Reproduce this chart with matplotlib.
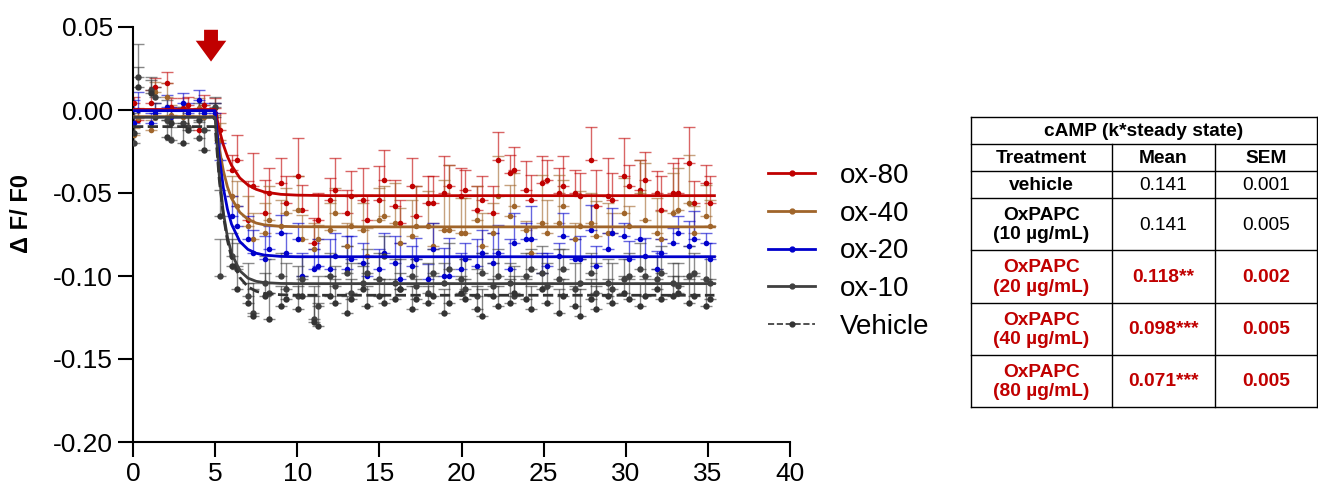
import matplotlib
matplotlib.use("Agg")
import matplotlib.pyplot as plt
from matplotlib.lines import Line2D
import numpy as np

plt.rcParams['font.family'] = ['Liberation Sans', 'DejaVu Sans']

# time points (s)
t = [0.05, 0.32, 1.07, 1.34, 2.05, 2.33, 3.05, 3.32, 4.03, 4.32, 5.02, 5.30,
     6.04, 6.33, 7.03, 7.31, 8.04, 8.30, 9.02, 9.30, 10.02, 10.29, 11.00, 11.29,
     12.00, 12.28, 13.00, 13.27, 13.98, 14.27, 14.98, 15.26, 15.97, 16.26, 16.97, 17.25,
     17.96, 18.24, 18.96, 19.24, 19.95, 20.23, 20.94, 21.22, 21.94, 22.22, 22.93, 23.21,
     23.93, 24.21, 24.92, 25.20, 25.92, 26.19, 26.91, 27.19, 27.91, 28.18, 28.90, 29.18,
     29.90, 30.17, 30.89, 31.17, 31.89, 32.16, 32.88, 33.16, 33.88, 34.15, 34.87, 35.15]

ox80 = [0.004, -0.006, 0.004, 0.014, 0.016, 0.002, 0.001, 0.003, -0.012, 0.003, 0.001, -0.012,
        -0.036, -0.030, -0.066, -0.046, -0.062, -0.050, -0.044, -0.056, -0.040, -0.060, -0.080, -0.066,
        -0.054, -0.048, -0.062, -0.052, -0.054, -0.066, -0.054, -0.042, -0.058, -0.068, -0.046, -0.064,
        -0.056, -0.056, -0.050, -0.046, -0.052, -0.048, -0.060, -0.054, -0.062, -0.030, -0.038, -0.036,
        -0.048, -0.054, -0.044, -0.042, -0.050, -0.046, -0.050, -0.052, -0.030, -0.058, -0.052, -0.054,
        -0.040, -0.046, -0.048, -0.042, -0.050, -0.060, -0.050, -0.050, -0.032, -0.056, -0.044, -0.056]
ox80_sem = [0.004, 0.006, 0.008, 0.005, 0.007, 0.005, 0.006, 0.005, 0.008, 0.006, 0.006, 0.010,
            0.009, 0.015, 0.023, 0.020, 0.020, 0.015, 0.015, 0.016, 0.023, 0.015, 0.015, 0.016,
            0.013, 0.019, 0.014, 0.015, 0.019, 0.015, 0.020, 0.018, 0.016, 0.014, 0.017, 0.018,
            0.016, 0.016, 0.022, 0.013, 0.017, 0.012, 0.014, 0.014, 0.016, 0.017, 0.011, 0.014,
            0.017, 0.015, 0.016, 0.012, 0.015, 0.018, 0.014, 0.014, 0.020, 0.022, 0.023, 0.016,
            0.023, 0.013, 0.018, 0.017, 0.013, 0.020, 0.018, 0.021, 0.022, 0.013, 0.011, 0.016]

ox40 = [-0.015, -0.005, -0.012, 0.011, 0.008, -0.003, -0.004, -0.010, 0.001, -0.004, -0.003, -0.018,
        -0.052, -0.058, -0.070, -0.078, -0.074, -0.066, -0.070, -0.062, -0.060, -0.078, -0.084, -0.078,
        -0.072, -0.062, -0.082, -0.070, -0.072, -0.088, -0.066, -0.064, -0.068, -0.080, -0.076, -0.070,
        -0.070, -0.082, -0.072, -0.072, -0.074, -0.074, -0.066, -0.082, -0.074, -0.052, -0.064, -0.058,
        -0.072, -0.086, -0.068, -0.074, -0.068, -0.058, -0.078, -0.070, -0.068, -0.076, -0.074, -0.074,
        -0.062, -0.070, -0.050, -0.066, -0.074, -0.078, -0.062, -0.060, -0.056, -0.074, -0.064, -0.070]
ox40_sem = [0.004, 0.006, 0.006, 0.006, 0.008, 0.006, 0.006, 0.007, 0.006, 0.007, 0.007, 0.010,
            0.012, 0.015, 0.018, 0.016, 0.018, 0.020, 0.016, 0.015, 0.020, 0.015, 0.016, 0.009,
            0.016, 0.015, 0.014, 0.018, 0.016, 0.017, 0.019, 0.018, 0.024, 0.021, 0.022, 0.024,
            0.021, 0.014, 0.030, 0.039, 0.021, 0.021, 0.020, 0.020, 0.018, 0.024, 0.019, 0.020,
            0.005, 0.015, 0.029, 0.020, 0.029, 0.016, 0.010, 0.021, 0.018, 0.021, 0.018, 0.012,
            0.021, 0.012, 0.020, 0.034, 0.021, 0.017, 0.024, 0.025, 0.029, 0.016, 0.019, 0.016]

ox20 = [-0.008, 0.000, -0.008, -0.002, 0.002, -0.004, 0.004, -0.002, 0.006, -0.002, -0.002, -0.030,
        -0.064, -0.070, -0.078, -0.086, -0.090, -0.084, -0.074, -0.086, -0.078, -0.100, -0.096, -0.094,
        -0.096, -0.088, -0.096, -0.090, -0.092, -0.100, -0.096, -0.086, -0.092, -0.102, -0.094, -0.090,
        -0.102, -0.084, -0.100, -0.100, -0.096, -0.090, -0.094, -0.086, -0.092, -0.086, -0.096, -0.080,
        -0.078, -0.078, -0.098, -0.094, -0.088, -0.076, -0.090, -0.090, -0.072, -0.094, -0.084, -0.074,
        -0.076, -0.090, -0.078, -0.088, -0.096, -0.086, -0.080, -0.074, -0.082, -0.078, -0.080, -0.090]
ox20_sem = [0.014, 0.011, 0.006, 0.006, 0.007, 0.006, 0.006, 0.006, 0.006, 0.006, 0.006, 0.010,
            0.012, 0.012, 0.014, 0.014, 0.014, 0.014, 0.011, 0.012, 0.010, 0.014, 0.012, 0.016,
            0.018, 0.014, 0.020, 0.014, 0.012, 0.012, 0.012, 0.012, 0.016, 0.022, 0.012, 0.013,
            0.009, 0.016, 0.017, 0.023, 0.010, 0.010, 0.016, 0.014, 0.018, 0.017, 0.018, 0.018,
            0.010, 0.020, 0.012, 0.008, 0.008, 0.014, 0.012, 0.014, 0.015, 0.012, 0.010, 0.015,
            0.008, 0.011, 0.008, 0.011, 0.011, 0.008, 0.009, 0.010, 0.015, 0.017, 0.006, 0.010]

ox10 = [-0.020, 0.020, 0.012, 0.008, -0.006, -0.018, -0.008, -0.010, -0.017, -0.012, 0.002, -0.100,
        -0.088, -0.096, -0.112, -0.122, -0.104, -0.110, -0.100, -0.108, -0.112, -0.102, -0.126, -0.118,
        -0.100, -0.106, -0.098, -0.110, -0.104, -0.098, -0.102, -0.088, -0.104, -0.108, -0.100, -0.106,
        -0.110, -0.098, -0.104, -0.096, -0.102, -0.108, -0.112, -0.098, -0.106, -0.100, -0.104, -0.112,
        -0.100, -0.096, -0.098, -0.106, -0.102, -0.096, -0.108, -0.104, -0.098, -0.110, -0.104, -0.108,
        -0.102, -0.100, -0.096, -0.100, -0.102, -0.098, -0.104, -0.106, -0.100, -0.098, -0.102, -0.104]
ox10_sem = [0.010, 0.020, 0.008, 0.006, 0.012, 0.008, 0.010, 0.006, 0.010, 0.008, 0.006, 0.022,
            0.014, 0.016, 0.020, 0.018, 0.016, 0.020, 0.014, 0.016, 0.018, 0.014, 0.020, 0.018,
            0.014, 0.012, 0.016, 0.018, 0.012, 0.014, 0.016, 0.012, 0.014, 0.018, 0.012, 0.016,
            0.018, 0.014, 0.012, 0.016, 0.014, 0.018, 0.016, 0.012, 0.014, 0.016, 0.012, 0.018,
            0.014, 0.012, 0.016, 0.014, 0.018, 0.012, 0.016, 0.014, 0.012, 0.018, 0.014, 0.016,
            0.012, 0.014, 0.016, 0.012, 0.014, 0.016, 0.012, 0.014, 0.018, 0.012, 0.014, 0.016]

vehicle = [-0.014, 0.014, 0.010, -0.004, -0.016, -0.008, -0.020, -0.012, -0.006, -0.024, -0.004, -0.064,
           -0.094, -0.108, -0.116, -0.124, -0.112, -0.126, -0.118, -0.114, -0.120, -0.112, -0.128, -0.130,
           -0.112, -0.116, -0.122, -0.114, -0.108, -0.118, -0.112, -0.116, -0.114, -0.108, -0.120, -0.114,
           -0.116, -0.112, -0.122, -0.116, -0.110, -0.114, -0.120, -0.124, -0.112, -0.118, -0.116, -0.110,
           -0.114, -0.120, -0.108, -0.116, -0.122, -0.112, -0.118, -0.124, -0.114, -0.120, -0.112, -0.116,
           -0.110, -0.114, -0.118, -0.112, -0.108, -0.114, -0.112, -0.110, -0.116, -0.112, -0.118, -0.114]
vehicle_sem = [0.012, 0.012, 0.008, 0.008, 0.010, 0.008, 0.012, 0.008, 0.010, 0.012, 0.008, 0.016,
               0.016, 0.014, 0.012, 0.016, 0.014, 0.016, 0.012, 0.010, 0.014, 0.012, 0.016, 0.014,
               0.012, 0.014, 0.010, 0.012, 0.014, 0.012, 0.010, 0.014, 0.012, 0.010, 0.014, 0.012,
               0.010, 0.012, 0.014, 0.012, 0.010, 0.012, 0.014, 0.016, 0.010, 0.012, 0.014, 0.010,
               0.012, 0.014, 0.010, 0.012, 0.014, 0.010, 0.012, 0.016, 0.012, 0.014, 0.010, 0.012,
               0.010, 0.012, 0.014, 0.010, 0.012, 0.010, 0.012, 0.010, 0.014, 0.012, 0.014, 0.012]

# fitted curves (plateau then one-phase decay)
fit_t = [0, 5.0, 5.25, 5.5, 5.75, 6.0, 6.5, 7.0, 7.5, 8.0, 9.0, 10.0, 12.0, 35.4]
fit80 = [0.0003, 0.0003, -0.0117, -0.0209, -0.0280, -0.0334, -0.0409, -0.0452, -0.0478, -0.0494, -0.0508, -0.0513, -0.0516, -0.0516]
fit40 = [-0.0040, -0.0040, -0.0230, -0.0366, -0.0463, -0.0532, -0.0616, -0.0659, -0.0681, -0.0692, -0.0701, -0.0703, -0.0704, -0.0704]
fit20 = [-0.0004, -0.0004, -0.0279, -0.0469, -0.0598, -0.0688, -0.0792, -0.0840, -0.0863, -0.0874, -0.0882, -0.0884, -0.0884, -0.0884]
fit10 = [-0.0044, -0.0044, -0.0391, -0.0618, -0.0766, -0.0863, -0.0968, -0.1013, -0.1032, -0.1040, -0.1045, -0.1046, -0.1046, -0.1046]
fitveh = [-0.0100, -0.0100, -0.0418, -0.0636, -0.0786, -0.0889, -0.1009, -0.1065, -0.1092, -0.1105, -0.1113, -0.1116, -0.1116, -0.1116]

labels = ['ox-80', 'ox-40', 'ox-20', 'ox-10', 'Vehicle']
colors = ['#c00000', '#a0652a', '#0000cc', '#404040', '#333333']

# table
tbl_title = 'cAMP (k*steady state)'
tbl_header = ['Treatment', 'Mean', 'SEM']
tbl_treat = ['vehicle', 'OxPAPC\n(10 µg/mL)', 'OxPAPC\n(20 µg/mL)', 'OxPAPC\n(40 µg/mL)', 'OxPAPC\n(80 µg/mL)']
tbl_mean = ['0.141', '0.141', '0.118**', '0.098***', '0.071***']
tbl_sem = ['0.001', '0.005', '0.002', '0.005', '0.005']
tbl_signif = [False, False, True, True, True]

fig = plt.figure(figsize=(13.18, 4.93), dpi=100)
ax = fig.add_axes([133 / 1318, 51 / 493, 657 / 1318, 415 / 493])

series = [(ox80, ox80_sem, fit80), (ox40, ox40_sem, fit40), (ox20, ox20_sem, fit20),
          (ox10, ox10_sem, fit10), (vehicle, vehicle_sem, fitveh)]
for i, (y, e, f) in enumerate(series):
    c = colors[i]
    ax.errorbar(t, y, yerr=[np.zeros(len(e)), e], fmt='none', ecolor=c, elinewidth=1.0,
                capsize=4, capthick=1.0, alpha=0.6, zorder=2)
    ax.plot(t, y, 'o', color=c, ms=4.0 if i < 3 else 4.6, mec='none', zorder=3)
    ax.plot(fit_t, f, color=c, lw=2, ls='--' if i == 4 else '-', zorder=4)

ax.set_xlim(0, 40)
ax.set_ylim(-0.20, 0.05)
ax.set_xticks(range(0, 41, 5))
ax.set_yticks([0.05, 0.0, -0.05, -0.10, -0.15, -0.20])
ax.set_yticklabels(['0.05', '0.00', '-0.05', '-0.10', '-0.15', '-0.20'])
ax.tick_params(labelsize=19, width=1.5, length=11, direction='out')
ax.spines['top'].set_visible(False)
ax.spines['right'].set_visible(False)
ax.spines['left'].set_linewidth(1.5)
ax.spines['bottom'].set_linewidth(1.5)
ax.set_ylabel('Δ F/ F0', fontsize=17, fontweight='bold')
ax.yaxis.set_label_coords(-0.152, 0.55)

# stimulus arrow
ax.annotate('', xy=(4.75, 0.0275), xytext=(4.75, 0.0500),
            arrowprops=dict(arrowstyle='simple,head_length=0.75,head_width=1.1,tail_width=0.5',
                            mutation_scale=20, color='#c00000', lw=0), annotation_clip=False)

handles = []
for i, lab in enumerate(labels):
    handles.append(Line2D([0], [0], color=colors[i], lw=2 if i < 4 else 1.2,
                          ls='--' if i == 4 else '-', marker='o', ms=3.5, label=lab))
fig.legend(handles=handles, loc='upper left', bbox_to_anchor=(757 / 1318, 1 - 152 / 493),
           frameon=False, fontsize=20, handlelength=1.7, handletextpad=0.9,
           labelspacing=0.42, borderaxespad=0)

# table drawn as lines and text
tax = fig.add_axes([971 / 1318, 86 / 493, 346 / 1318, 290 / 493])
tax.set_xlim(971, 1317)
tax.set_ylim(407, 117)
tax.axis('off')
red = '#c00000'
row_edges = [117, 144, 171, 198, 250, 303, 355, 407]
col_edges = [971, 1112, 1215, 1317]
lw = 1.0
for yy in row_edges:
    tax.plot([col_edges[0], col_edges[-1]], [yy, yy], color='black', lw=lw, clip_on=False)
for xx in [col_edges[0], col_edges[-1]]:
    tax.plot([xx, xx], [row_edges[0], row_edges[-1]], color='black', lw=lw, clip_on=False)
for xx in col_edges[1:-1]:
    tax.plot([xx, xx], [row_edges[1], row_edges[-1]], color='black', lw=lw, clip_on=False)

fs = 13.8
cx = [(col_edges[j] + col_edges[j + 1]) / 2 for j in range(3)]
tax.text((col_edges[0] + col_edges[-1]) / 2, (row_edges[0] + row_edges[1]) / 2 + 1, tbl_title,
         ha='center', va='center', fontsize=fs, fontweight='bold')
for j, h in enumerate(tbl_header):
    tax.text(cx[j], (row_edges[1] + row_edges[2]) / 2 + 1, h, ha='center', va='center',
             fontsize=fs, fontweight='bold')
for r in range(len(tbl_treat)):
    ym = (row_edges[r + 2] + row_edges[r + 3]) / 2 + 1
    c = red if tbl_signif[r] else 'black'
    vw = 'bold' if tbl_signif[r] else 'normal'
    tax.text(cx[0], ym, tbl_treat[r], ha='center', va='center', fontsize=fs,
             fontweight='bold', color=c, linespacing=1.2)
    tax.text(cx[1], ym, tbl_mean[r], ha='center', va='center', fontsize=fs, fontweight=vw, color=c)
    tax.text(cx[2], ym, tbl_sem[r], ha='center', va='center', fontsize=fs, fontweight=vw, color=c)

fig.savefig('out.png', dpi=100)
